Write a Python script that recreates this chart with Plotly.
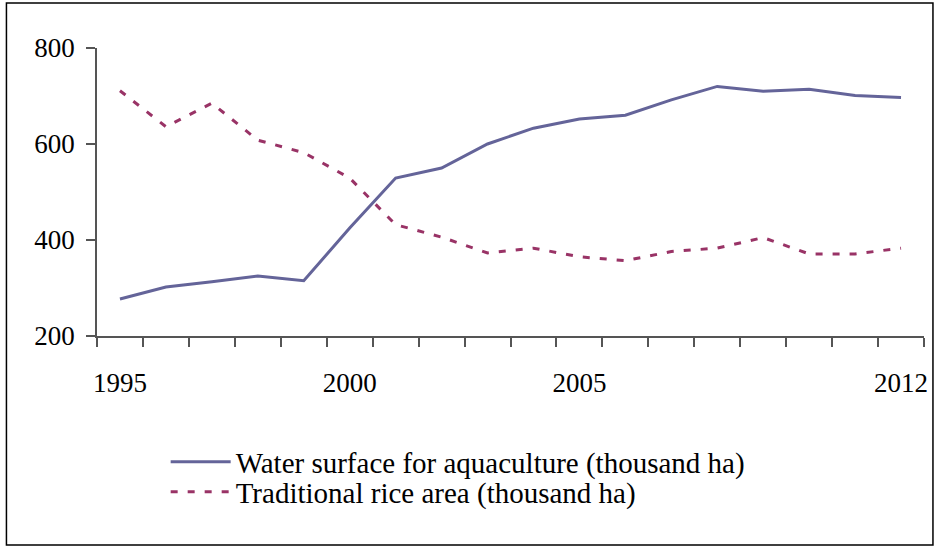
import plotly.graph_objects as go

years = list(range(1995, 2013))
aquaculture = [277, 302, 313, 325, 315, 425, 529, 550, 600, 633, 652, 660, 692, 720, 710, 714, 701, 697]
rice = [711, 636, 685, 608, 582, 529, 432, 406, 373, 383, 365, 357, 376, 383, 405, 371, 371, 383]
label_years = [1995, 2000, 2005, 2012]

W, H = 940, 548
L, R, T, B = 97, 12, 48, 212
pw, ph = W - L - R, H - T - B

fam = "Liberation Serif, Times New Roman, serif"

fig = go.Figure()
fig.add_trace(go.Scatter(x=years, y=aquaculture, mode="lines",
                         name="Water surface for aquaculture (thousand ha)",
                         line=dict(color="#646499", width=3), legend="legend"))
fig.add_trace(go.Scatter(x=years, y=rice, mode="lines",
                         name="Traditional rice area (thousand ha)",
                         line=dict(color="#993366", width=3, dash="7px,10px"), legend="legend2"))

def leg(py):
    return dict(x=(166 - L) / pw, y=(T + ph - py) / ph, xanchor="left", yanchor="middle",
                font=dict(family=fam, size=29, color="black"),
                bgcolor="rgba(0,0,0,0)", itemwidth=60)

fig.update_layout(
    width=W, height=H,
    margin=dict(l=L, r=R, t=T, b=B),
    paper_bgcolor="white", plot_bgcolor="white",
    font=dict(family=fam, size=27, color="black"),
    showlegend=True,
    legend=leg(462),
    legend2=leg(492),
    xaxis=dict(range=[1994.5, 2012.5], tickvals=label_years, ticks="",
               showgrid=False, zeroline=False, showline=True, linecolor="#555", linewidth=1.5,
               ticklabelstandoff=22,
               minor=dict(tick0=1994.5, dtick=1, ticks="outside", ticklen=9,
                          tickcolor="#555", tickwidth=1.5, showgrid=False)),
    yaxis=dict(range=[200, 800], tickvals=[200, 400, 600, 800], ticks="outside",
               ticklen=9, tickcolor="#555", tickwidth=1.5,
               showgrid=False, zeroline=False, showline=True, linecolor="#555", linewidth=1.5,
               ticklabelstandoff=6),
    shapes=[dict(type="rect", xref="paper", yref="paper",
                 x0=(6 - L) / pw, x1=(937 - L) / pw,
                 y0=(T + ph - 545) / ph, y1=(T + ph - 3) / ph,
                 line=dict(color="black", width=1.5), fillcolor="rgba(0,0,0,0)")],
)

fig.write_html("out.html", config={"displayModeBar": False},
               post_script="document.body.style.margin='0px';")
